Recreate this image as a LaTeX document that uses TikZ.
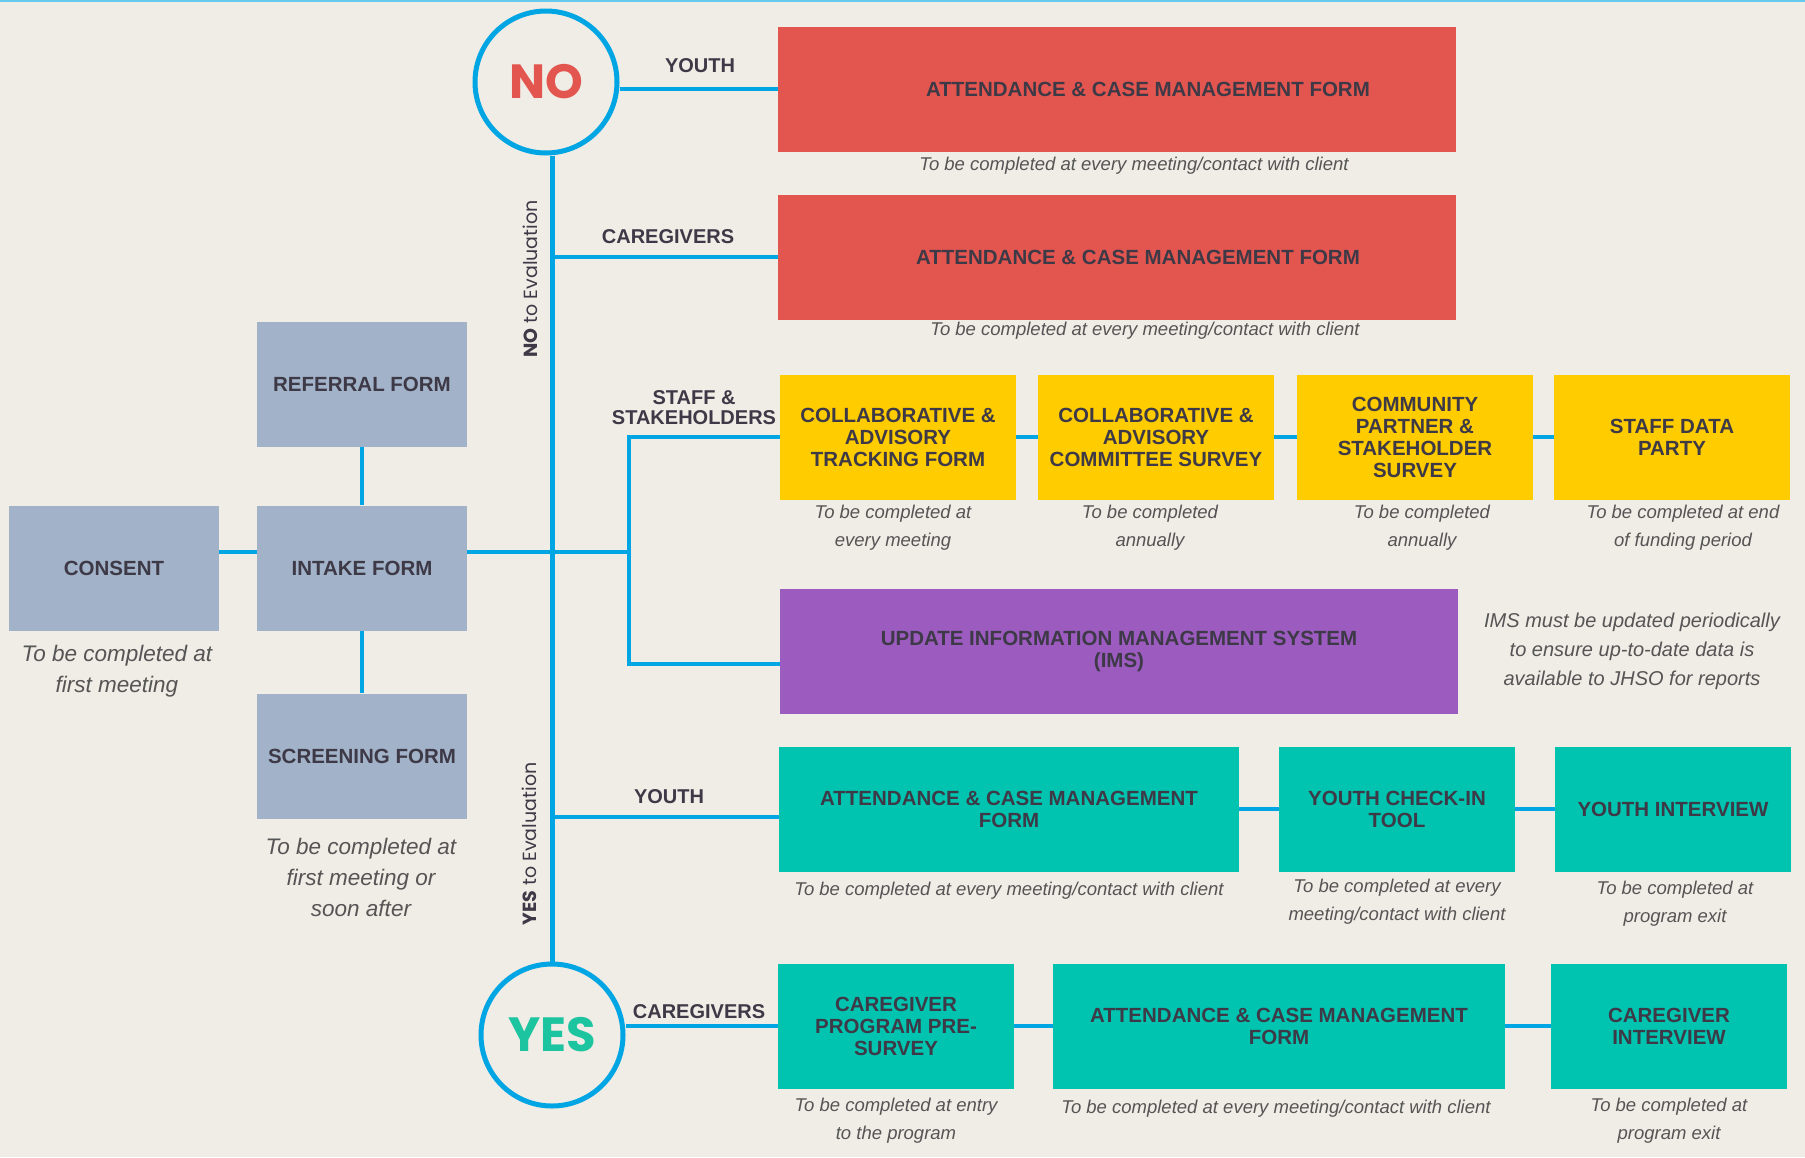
\documentclass[tikz,border=0pt]{standalone}
\usepackage{fontspec}
\setmainfont{Liberation Sans}
\newfontfamily\roundfont{Poppins}
\usepackage{xcolor}
\definecolor{paper}{RGB}{240,236,230}
\definecolor{slate}{RGB}{162,178,200}
\definecolor{tomato}{RGB}{227,86,80}
\definecolor{sun}{RGB}{255,204,0}
\definecolor{plum}{RGB}{155,91,191}
\definecolor{aqua}{RGB}{0,196,176}
\definecolor{yesgreen}{RGB}{29,196,160}
\definecolor{wirecol}{RGB}{0,166,228}
\definecolor{ink}{RGB}{61,57,70}
\definecolor{notegray}{RGB}{85,85,85}
\usepackage{tikz}
\usetikzlibrary{calc}

\newcommand{\boxfnt}{\fontsize{20.5}{22}\selectfont\bfseries}
\newcommand{\notefnt}{\fontsize{18.5}{28}\selectfont\itshape}
\newcommand{\bignotefnt}{\fontsize{22.5}{31}\selectfont\itshape}
\newcommand{\imsnotefnt}{\fontsize{20}{29}\selectfont\itshape}
\newcommand{\labelfnt}{\fontsize{20}{20}\selectfont\bfseries}
\newcommand{\answerfnt}{\roundfont\fontsize{48}{50}\selectfont\bfseries}
\newcommand{\sidefnt}{\roundfont\fontsize{19}{20}\selectfont}

\tikzstyle{box} = [
    rectangle, text centered, align=center,
    inner sep=2pt,
    minimum height=125pt,
    text=ink,
    font=\boxfnt,
]
\tikzstyle{entry} = [
    box,
    fill=slate,
    minimum width=210pt,
]
\tikzstyle{noform} = [
    box,
    fill=tomato,
    minimum width=678pt,
]
\tikzstyle{staff} = [
    box,
    fill=sun,
    minimum width=236pt,
]
\tikzstyle{ims} = [
    box,
    fill=plum,
    minimum width=678pt,
]
\tikzstyle{yesform} = [
    box,
    fill=aqua,
    minimum width=236pt,
]
\tikzstyle{answer} = [
    circle,
    draw=wirecol, line width=5pt,
    fill=paper,
    minimum size=142pt, inner sep=0pt,
    font=\answerfnt,
]
\tikzstyle{note} = [align=center, inner sep=0pt, text=notegray, font=\notefnt]
\tikzstyle{branchlabel} = [align=center, inner sep=0pt, text=ink, font=\labelfnt]
\tikzstyle{sidelabel} = [inner sep=0pt, text=ink, font=\sidefnt]
\tikzstyle{wire} = [draw=wirecol, line width=4.5pt]

\begin{document}
\begin{tikzpicture}[x=1pt, y=-1pt]
    % page
    \fill[paper] (0,0) rectangle (1805,1157);
    \useasboundingbox (0,0) rectangle (1805,1157);
    \draw[wirecol!60, line width=2pt] (0,1) -- (1805,1);

    % boxes
    \node (no) at (546,82) [answer, text=tomato] {NO};
    \node (yes) at (552,1035) [answer, text=yesgreen] {YES};

    \node (referral) at (362,384) [entry] {REFERRAL FORM};
    \node (intake) at (362,568) [entry] {INTAKE FORM};
    \node (consent) at (114,568) [entry] {CONSENT};
    \node (screening) at (362,756) [entry] {SCREENING FORM};

    \node (acm1) at (1117,89) [noform] {\hspace*{62pt}ATTENDANCE \& CASE MANAGEMENT FORM};
    \node (acm2) at (1117,257) [noform] {\hspace*{42pt}ATTENDANCE \& CASE MANAGEMENT FORM};

    \foreach \name/\x/\txt in {
        cat/898/{COLLABORATIVE \&\\ADVISORY\\TRACKING FORM},
        cas/1156/{COLLABORATIVE \&\\ADVISORY\\COMMITTEE SURVEY},
        cps/1415/{COMMUNITY\\PARTNER \&\\STAKEHOLDER\\SURVEY},
        party/1672/{STAFF DATA\\PARTY}} {
        \node (\name) at (\x,437) [staff] {\txt};
    }
    \node (ims) at (1119,651) [ims] {UPDATE INFORMATION MANAGEMENT SYSTEM\\(IMS)};

    \node (yacm) at (1009,809) [yesform, minimum width=460pt] {ATTENDANCE \& CASE MANAGEMENT\\FORM};
    \node (checkin) at (1397,809) [yesform] {YOUTH CHECK-IN\\TOOL};
    \node (yint) at (1673,809) [yesform] {YOUTH INTERVIEW};
    \node (presurvey) at (896,1026) [yesform] {CAREGIVER\\PROGRAM PRE-\\SURVEY};
    \node (cacm) at (1279,1026) [yesform, minimum width=452pt] {ATTENDANCE \& CASE MANAGEMENT\\FORM};
    \node (cint) at (1669,1026) [yesform] {CAREGIVER\\INTERVIEW};

    % labels
    \node (lyouth1) at (700,66) [branchlabel] {YOUTH};
    \node (lcare1) at (668,237) [branchlabel] {CAREGIVERS};
    \node (lstaff) at (694,408) [branchlabel] {STAFF \&\\STAKEHOLDERS};
    \node (lyouth2) at (669,797) [branchlabel] {YOUTH};
    \node (lcare2) at (699,1012) [branchlabel] {CAREGIVERS};
    \node (lno) at (530,279) [sidelabel, rotate=90] {\textbf{NO} to Evaluation};
    \node (lyes) at (529,844) [sidelabel, rotate=90] {\textbf{YES} to Evaluation};

    % notes
    \node (nacm1) at (1134,166) [note] {To be completed at every meeting/contact with client};
    \node (nacm2) at (1145,331) [note] {To be completed at every meeting/contact with client};
    \node (nconsent) at (117,671) [note, font=\bignotefnt] {To be completed at\\first meeting};
    \node (nscreen) at (361,877) [note, font=\bignotefnt] {To be completed at\\first meeting or\\soon after};
    \foreach \name/\x/\txt in {
        ncat/893/{To be completed at\\every meeting},
        ncas/1150/{To be completed\\annually},
        ncps/1422/{To be completed\\annually},
        nparty/1683/{To be completed at end\\of funding period}} {
        \node (\name) at (\x,528) [note] {\txt};
    }
    \node (nims) at (1632,651) [note, font=\imsnotefnt] {IMS must be updated periodically\\to ensure up-to-date data is\\available to JHSO for reports};
    \node (nyacm) at (1009,891) [note] {To be completed at every meeting/contact with client};
    \node (ncheckin) at (1397,902) [note] {To be completed at every\\meeting/contact with client};
    \node (nyint) at (1675,904) [note] {To be completed at\\program exit};
    \node (npresurvey) at (896,1121) [note] {To be completed at entry\\to the program};
    \node (ncacm) at (1276,1109) [note] {To be completed at every meeting/contact with client};
    \node (ncint) at (1669,1121) [note] {To be completed at\\program exit};

    % wires
    \draw[wire, line width=5pt] (no.south -| yes.north) -- (yes.north);
    \draw[wire] (acm1.west -| no.east) -- (acm1.west);
    \draw[wire] (acm2.west -| yes.north) -- (acm2.west);

    \draw[wire] (referral) -- (intake);
    \draw[wire] (intake) -- (screening);
    \draw[wire] ([yshift=16pt]consent.east) -- ([yshift=16pt]intake.west);
    \coordinate (split) at (629,552);
    \draw[wire] ([yshift=16pt]intake.east) -- (split);
    \draw[wire] (cat.west) -| (split) |- ([yshift=-13pt]ims.west);

    \coordinate (ytap) at ([yshift=-8pt]yacm.west);
    \draw[wire] (ytap -| yes.north) -- (ytap);
    \draw[wire] (yes.east |- presurvey.west) -- (presurvey.west);

    \foreach \a/\b in {cat/cas, cas/cps, cps/party, yacm/checkin, checkin/yint, presurvey/cacm, cacm/cint} {
        \draw[wire] (\a) -- (\b);
    }

\end{tikzpicture}
\end{document}
